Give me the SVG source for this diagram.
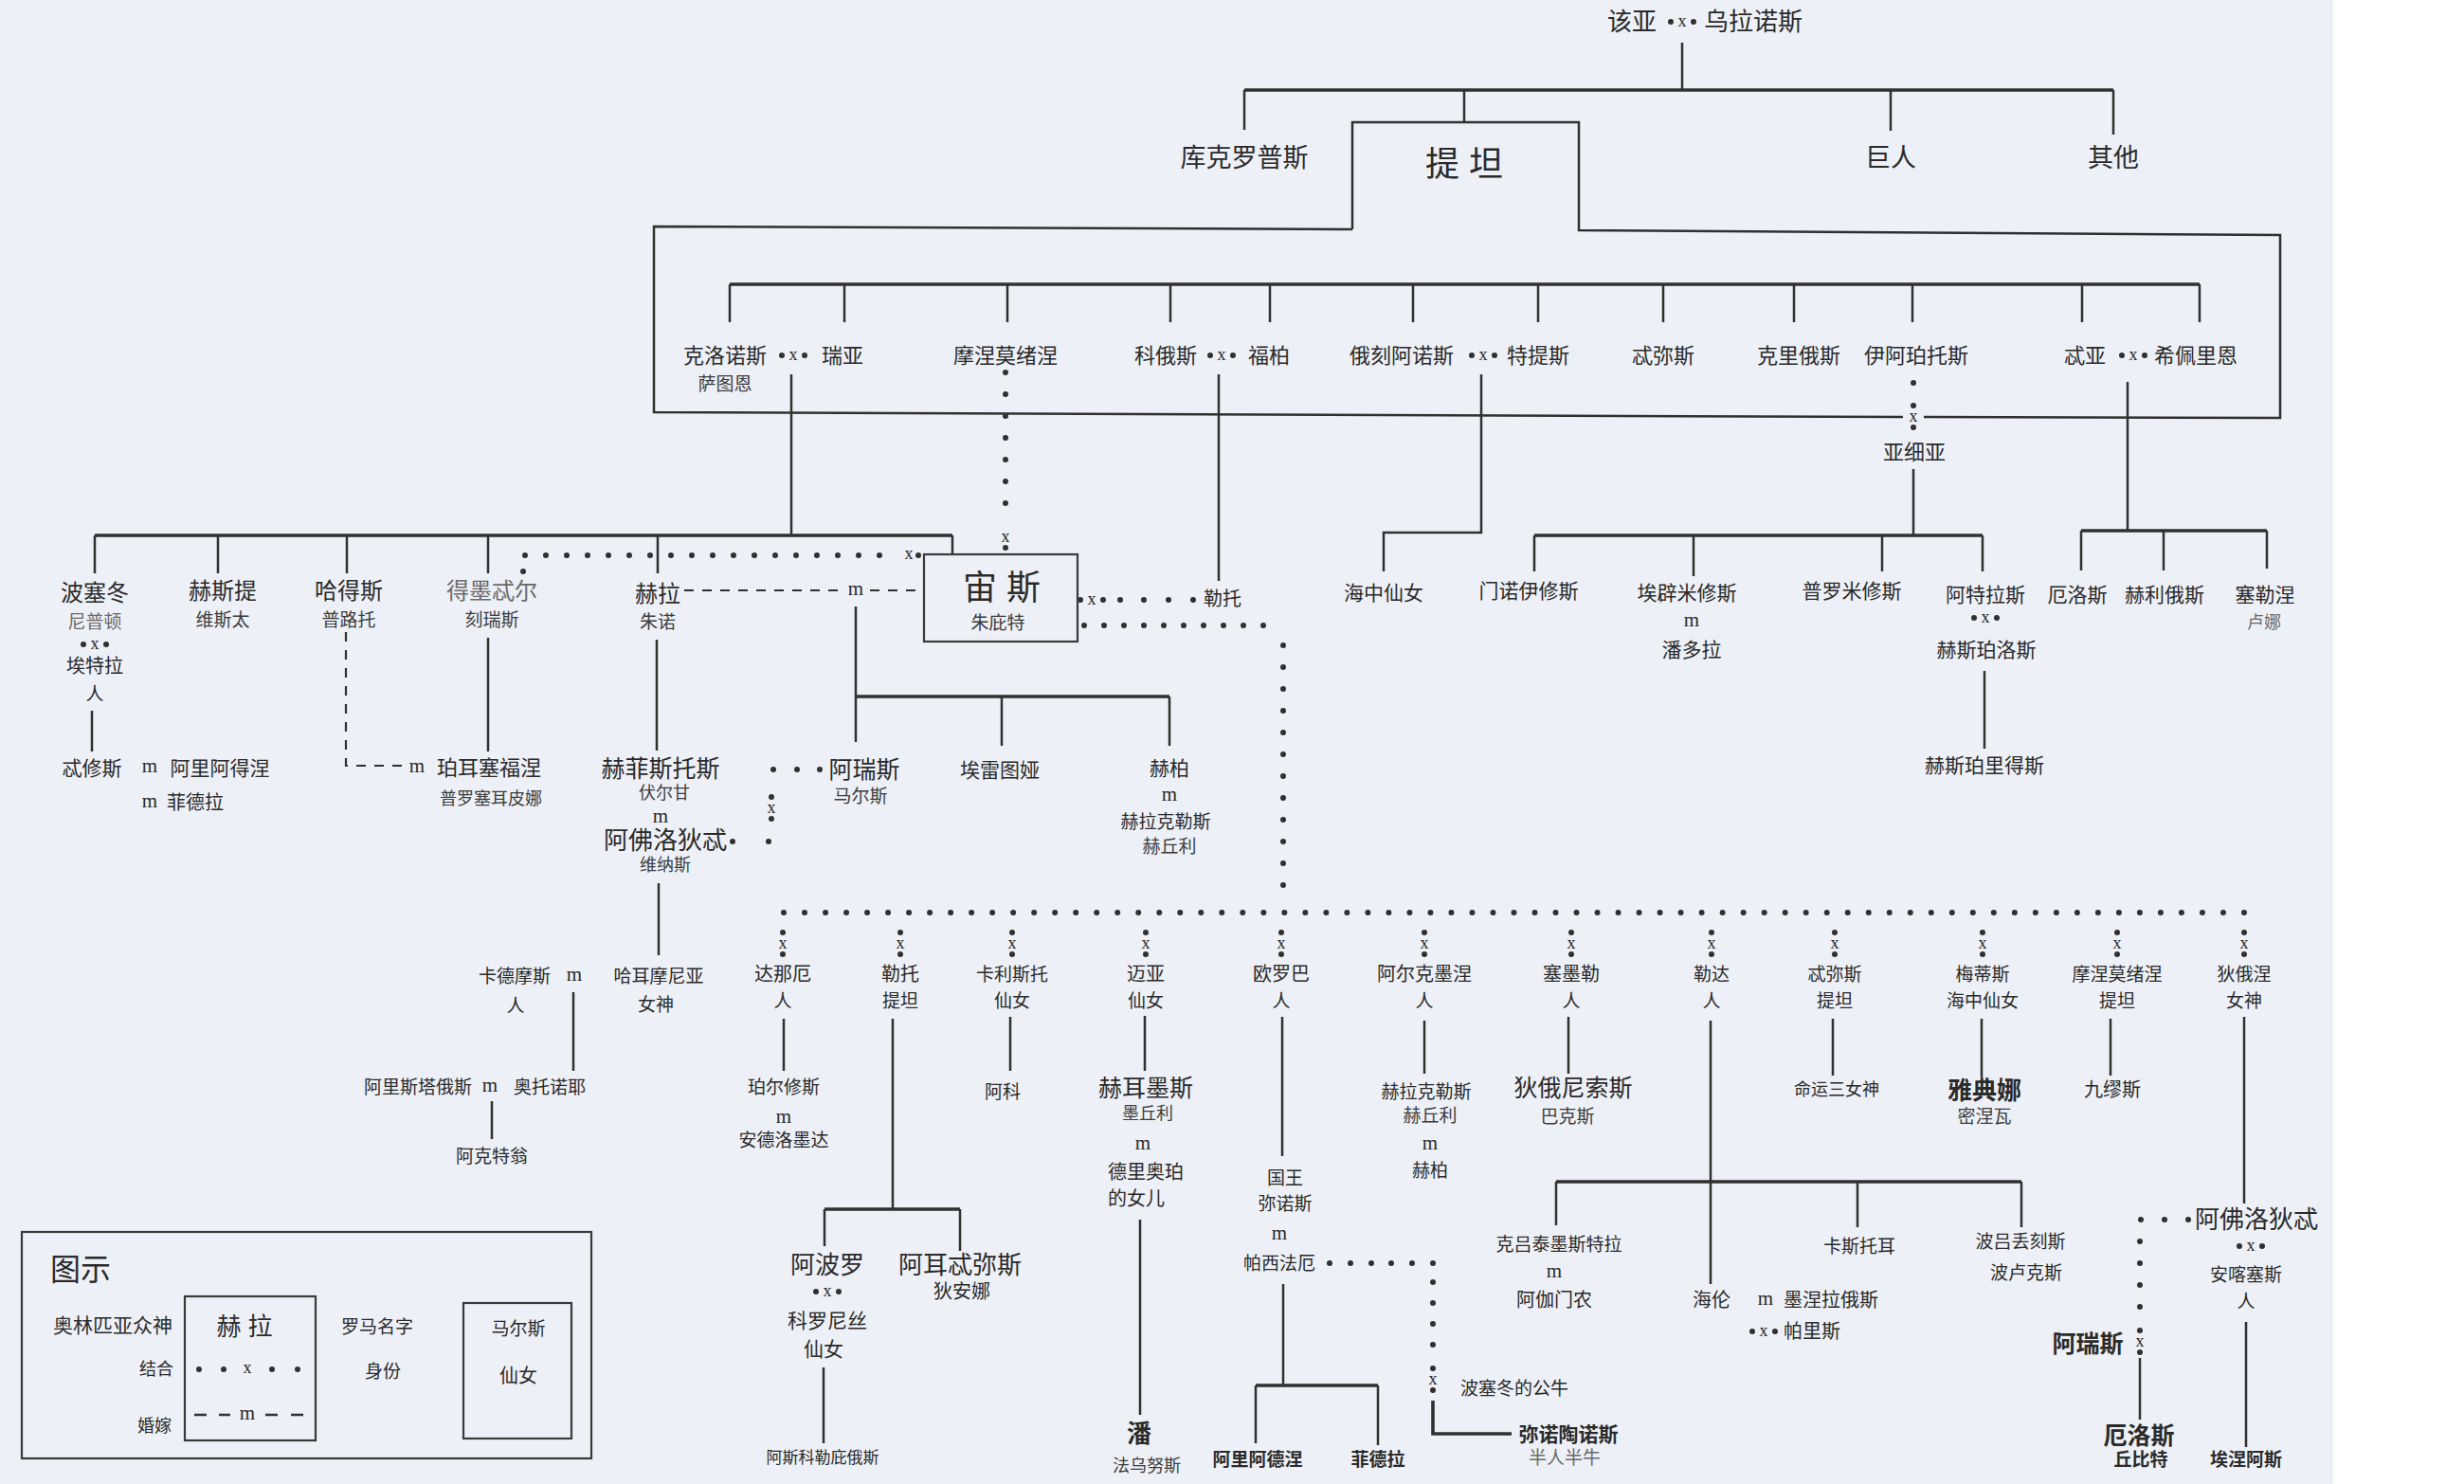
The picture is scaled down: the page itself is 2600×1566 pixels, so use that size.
<svg xmlns="http://www.w3.org/2000/svg" xmlns:xlink="http://www.w3.org/1999/xlink" width="2600" height="1566" viewBox="0 0 2600 1566">
<style>
.ln{stroke:#303030;stroke-width:2.5;fill:none}
.tk{stroke:#303030;stroke-width:3.6;fill:none}
.dt{stroke:#303030;stroke-width:6;stroke-linecap:round;fill:none}
.ds{stroke:#303030;stroke-width:2.2;stroke-dasharray:10 9;fill:none}
.bx{fill:none;stroke:#3a3a3a;stroke-width:2.2}
.dc{fill:#303030}
text{font-family:"Liberation Sans","Noto Sans CJK SC",sans-serif;fill:#2a2a2a;text-anchor:middle;dominant-baseline:central}
.s36{font-size:36px}
.s27{font-size:27px}
.s26{font-size:26px}
.s25{font-size:25px}
.s24{font-size:24px}
.s22{font-size:22px}
.s21{font-size:21px}
.s20{font-size:20px}
.s19{font-size:19px}
.s18{font-size:18px}
.s17{font-size:17px}
.r{fill:#3c3c3c}
.lt{fill:#6a6a6a}
.bd{font-weight:bold}
.m{font-family:"Liberation Serif",serif;font-size:21px}
.xx{font-family:"Liberation Serif",serif;font-size:18px}
.st{text-anchor:start}
</style>
<defs>
<g id="hx"><circle cx="-12" cy="0" r="3" class="dc"/><text x="0" y="-1" class="xx">x</text><circle cx="12" cy="0" r="3" class="dc"/></g>
<g id="vx"><circle cx="0" cy="-12" r="3" class="dc"/><text x="0" y="-1" class="xx">x</text><circle cx="0" cy="11" r="3" class="dc"/></g>
</defs>
<rect x="0" y="0" width="2600" height="1566" fill="#edf0f6"/>
<rect x="2462" y="0" width="138" height="1566" fill="#ffffff"/>

<g id="connectors">
<!-- top generation -->
<path class="ln" d="M1775 45 V95"/>
<path class="tk" d="M1313 95 H2230"/>
<path class="ln" d="M1313 95 V137 M1545 95 V129 M1995 95 V138 M2230 95 V142"/>
<!-- titan frame -->
<path class="ln" d="M1427 242 V129 H1666 V243 L2406 248 V441 L2030 440 M2008 440 L690 435 V239 L1427 242"/>
<path class="tk" d="M770 300 H2321"/>
<path class="ln" d="M770 300 V340 M891 300 V340 M1063 300 V340 M1235 300 V340 M1340 300 V340 M1491 300 V340 M1623 300 V340 M1755 300 V340 M1893 300 V340 M2018 300 V340 M2197 300 V340 M2321 300 V340"/>
<!-- Cronus & Rhea children -->
<path class="ln" d="M835 395 V565"/>
<path class="tk" d="M100 565 H1005"/>
<path class="ln" d="M1005 565 V585 M100 565 V605 M230 565 V605 M366 565 V605 M515 565 V605 M694 565 V605"/>
<!-- Demeter x Zeus -->
<circle cx="552" cy="603" r="3" class="dc"/>
<path class="dt" stroke-dasharray="0 22" d="M554 586 H950"/>
<text x="959" y="584" class="xx">x</text>
<circle cx="969" cy="586" r="3" class="dc"/>
<!-- Mnemosyne x Zeus -->
<path class="dt" stroke-dasharray="0 23" d="M1061 393 V554"/>
<text x="1061" y="566" class="xx">x</text>
<circle cx="1061" cy="578" r="3" class="dc"/>
<!-- Koios x Phoebe -->
<path class="ln" d="M1286 395 V613"/>
<use xlink:href="#hx" x="1152" y="633"/>
<circle cx="1182" cy="633" r="3" class="dc"/><circle cx="1207" cy="633" r="3" class="dc"/><circle cx="1233" cy="633" r="3" class="dc"/><circle cx="1259" cy="633" r="3" class="dc"/>
<!-- Oceanus x Tethys -->
<path class="ln" d="M1563 395 V562 H1460 V603"/>
<!-- Iapetus -->
<circle cx="2019" cy="404" r="3" class="dc"/>
<use xlink:href="#vx" x="2019" y="440"/>
<path class="ln" d="M2019 495 V565"/>
<path class="tk" d="M1619 565 H2092"/>
<path class="ln" d="M1619 565 V603 M1787 565 V608 M1986 565 V603 M2092 565 V603"/>
<path class="ln" d="M2094 708 V790"/>
<!-- Theia x Hyperion -->
<path class="ln" d="M2245 403 V560"/>
<path class="tk" d="M2196 560 H2392"/>
<path class="ln" d="M2196 560 V602 M2283 560 V602 M2392 560 V600"/>
<!-- Poseidon, Hades, Demeter -->
<path class="ln" d="M97 750 V793"/>
<path class="ds" d="M365 667 V808 H430"/>
<path class="ln" d="M515 673 V793"/>
<!-- Hera m Zeus -->
<path class="ds" d="M722 623 H891 M918 623 H975"/>
<path class="ln" d="M903 640 V783"/>
<path class="tk" d="M903 735 H1234"/>
<path class="ln" d="M1057 735 V787 M1234 735 V787"/>
<path class="ln" d="M693 675 V792"/>
<!-- Aphrodite x Ares -->
<circle cx="773" cy="888" r="3" class="dc"/><circle cx="811" cy="888" r="3" class="dc"/>
<use xlink:href="#vx" x="814" y="853"/>
<circle cx="816" cy="812" r="3" class="dc"/><circle cx="841" cy="812" r="3" class="dc"/><circle cx="865" cy="812" r="3" class="dc"/>
<path class="ln" d="M695 932 V1008"/>
<path class="ln" d="M605 1047 V1130"/>
<path class="ln" d="M519 1162 V1202"/>
<!-- Zeus lovers -->
<path class="dt" stroke-dasharray="0 21" d="M1144 660 H1354"/>
<path class="dt" stroke-dasharray="0 23" d="M1354 681 V957"/>
<path class="dt" stroke-dasharray="0 22.014" d="M827 963 H2368"/>
<use xlink:href="#vx" x="826" y="996"/>
<use xlink:href="#vx" x="950" y="996"/>
<use xlink:href="#vx" x="1068" y="996"/>
<use xlink:href="#vx" x="1209" y="996"/>
<use xlink:href="#vx" x="1352" y="996"/>
<use xlink:href="#vx" x="1503" y="996"/>
<use xlink:href="#vx" x="1658" y="996"/>
<use xlink:href="#vx" x="1806" y="996"/>
<use xlink:href="#vx" x="1936" y="996"/>
<use xlink:href="#vx" x="2092" y="996"/>
<use xlink:href="#vx" x="2234" y="996"/>
<use xlink:href="#vx" x="2368" y="996"/>
<!-- children of Zeus -->
<path class="ln" d="M827 1075 V1130"/>
<path class="ln" d="M942 1075 V1276"/>
<path class="tk" d="M870 1276 H1013"/>
<path class="ln" d="M870 1276 V1315 M1013 1276 V1320"/>
<path class="ln" d="M869 1443 V1523"/>
<path class="ln" d="M1066 1073 V1130"/>
<path class="ln" d="M1208 1072 V1130 M1203 1287 V1493"/>
<path class="ln" d="M1353 1073 V1220 M1354 1355 V1462"/>
<path class="tk" d="M1325 1462 H1454"/>
<path class="ln" d="M1325 1462 V1523 M1454 1462 V1525"/>
<circle cx="1403" cy="1333" r="3" class="dc"/><circle cx="1425" cy="1333" r="3" class="dc"/><circle cx="1447" cy="1333" r="3" class="dc"/><circle cx="1468" cy="1333" r="3" class="dc"/><circle cx="1490" cy="1333" r="3" class="dc"/><circle cx="1512" cy="1333" r="3" class="dc"/>
<circle cx="1512" cy="1353" r="3" class="dc"/><circle cx="1512" cy="1375" r="3" class="dc"/><circle cx="1512" cy="1397" r="3" class="dc"/><circle cx="1512" cy="1419" r="3" class="dc"/>
<use xlink:href="#vx" x="1512" y="1456"/>
<path class="tk" d="M1512 1478 V1513 H1595"/>
<path class="ln" d="M1503 1077 V1133"/>
<path class="ln" d="M1655 1073 V1133"/>
<path class="ln" d="M1805 1077 V1355"/>
<path class="tk" d="M1642 1247 H2133"/>
<path class="ln" d="M1642 1247 V1293 M1960 1247 V1295 M2133 1247 V1295"/>
<path class="ln" d="M1934 1075 V1135 M2091 1075 V1137 M2227 1075 V1135"/>
<path class="ln" d="M2368 1073 V1270"/>
<circle cx="2259" cy="1287" r="3" class="dc"/><circle cx="2284" cy="1287" r="3" class="dc"/><circle cx="2309" cy="1287" r="3" class="dc"/>
<circle cx="2258" cy="1310" r="3" class="dc"/><circle cx="2258" cy="1333" r="3" class="dc"/><circle cx="2258" cy="1356" r="3" class="dc"/><circle cx="2258" cy="1379" r="3" class="dc"/>
<use xlink:href="#vx" x="2258" y="1416"/>
<path class="ln" d="M2258 1433 V1498"/>
<path class="ln" d="M2370 1395 V1527"/>
</g>

<g id="n-gaia"><text x="1722" y="23" class="s26">该亚</text><use xlink:href="#hx" x="1775" y="23"/><text x="1850" y="23" class="s26">乌拉诺斯</text></g>
<g id="n-cyclopes"><text x="1313" y="167" class="s27">库克罗普斯</text></g>
<g id="n-titans"><text x="1545" y="173" class="s36">提 坦</text></g>
<g id="n-giants"><text x="1995" y="167" class="s27">巨人</text></g>
<g id="n-others"><text x="2230" y="167" class="s27">其他</text></g>

<g id="n-cronus"><text x="765" y="375" class="s22">克洛诺斯</text><use xlink:href="#hx" x="837" y="375"/><text x="889" y="375" class="s22">瑞亚</text><text x="765" y="405" class="s19 r">萨图恩</text></g>
<g id="n-mnemosyne"><text x="1061" y="375" class="s22">摩涅莫绪涅</text></g>
<g id="n-koios"><text x="1230" y="375" class="s22">科俄斯</text><use xlink:href="#hx" x="1289" y="375"/><text x="1339" y="375" class="s22">福柏</text></g>
<g id="n-oceanus"><text x="1479" y="375" class="s22">俄刻阿诺斯</text><use xlink:href="#hx" x="1565" y="375"/><text x="1623" y="375" class="s22">特提斯</text></g>
<g id="n-themis"><text x="1755" y="375" class="s22">忒弥斯</text></g>
<g id="n-crius"><text x="1898" y="375" class="s22">克里俄斯</text></g>
<g id="n-iapetus"><text x="2022" y="375" class="s22">伊阿珀托斯</text></g>
<g id="n-theia"><text x="2200" y="375" class="s22">忒亚</text><use xlink:href="#hx" x="2251" y="375"/><text x="2317" y="375" class="s22">希佩里恩</text></g>

<g id="n-poseidon"><text x="100" y="625" class="s24">波塞冬</text><text x="100" y="656" class="s19 lt">尼普顿</text><use xlink:href="#hx" x="100" y="680"/><text x="100" y="703" class="s20">埃特拉</text><text x="100" y="732" class="s19">人</text></g>
<g id="n-theseus"><text x="97" y="810" class="s21">忒修斯</text><text x="158" y="808" class="m">m</text><text x="232" y="810" class="s21">阿里阿得涅</text><text x="158" y="845" class="m">m</text><text x="206" y="847" class="s20">菲德拉</text></g>
<g id="n-hestia"><text x="235" y="623" class="s24">赫斯提</text><text x="235" y="654" class="s19 r">维斯太</text></g>
<g id="n-hades"><text x="368" y="623" class="s24">哈得斯</text><text x="368" y="654" class="s19 r">普路托</text></g>
<g id="n-persephone"><text x="440" y="808" class="m">m</text><text x="516" y="810" class="s22">珀耳塞福涅</text><text x="518" y="843" class="s18 r">普罗塞耳皮娜</text></g>
<g id="n-demeter"><text x="519" y="623" class="s24 lt">得墨忒尔</text><text x="519" y="654" class="s19 r">刻瑞斯</text></g>
<g id="n-hera"><text x="694" y="626" class="s24">赫拉</text><text x="694" y="656" class="s19 r">朱诺</text><text x="903" y="621" class="m">m</text></g>
<g id="n-zeus"><rect x="975" y="585" width="162" height="92" class="bx"/><text x="1057" y="620" class="s36">宙 斯</text><text x="1053" y="657" class="s19 r">朱庇特</text></g>
<g id="n-leto-top"><text x="1290" y="632" class="s20">勒托</text></g>
<g id="n-oceanids"><text x="1460" y="625" class="s21">海中仙女</text></g>
<g id="n-asia"><text x="2020" y="477" class="s22">亚细亚</text></g>
<g id="n-menoetius"><text x="1613" y="623" class="s21">门诺伊修斯</text></g>
<g id="n-epimetheus"><text x="1780" y="625" class="s21">埃辟米修斯</text><text x="1785" y="654" class="m">m</text><text x="1785" y="685" class="s21">潘多拉</text></g>
<g id="n-prometheus"><text x="1954" y="623" class="s21">普罗米修斯</text></g>
<g id="n-atlas"><text x="2095" y="627" class="s21">阿特拉斯</text><use xlink:href="#hx" x="2095" y="652"/><text x="2096" y="685" class="s21">赫斯珀洛斯</text></g>
<g id="n-hesperides"><text x="2094" y="807" class="s21">赫斯珀里得斯</text></g>
<g id="n-eos"><text x="2192" y="627" class="s21">厄洛斯</text></g>
<g id="n-helios"><text x="2284" y="627" class="s21">赫利俄斯</text></g>
<g id="n-selene"><text x="2390" y="627" class="s21">塞勒涅</text><text x="2389" y="657" class="s18 lt">卢娜</text></g>

<g id="n-ares"><text x="912" y="812" class="s25">阿瑞斯</text><text x="908" y="840" class="s19 r">马尔斯</text></g>
<g id="n-eileithyia"><text x="1055" y="812" class="s21">埃雷图娅</text></g>
<g id="n-hebe"><text x="1234" y="810" class="s21">赫柏</text><text x="1234" y="838" class="m">m</text><text x="1230" y="867" class="s19">赫拉克勒斯</text><text x="1234" y="893" class="s19 r">赫丘利</text></g>
<g id="n-hephaestus"><text x="697" y="811" class="s25">赫菲斯托斯</text><text x="701" y="837" class="s18 r">伏尔甘</text><text x="697" y="861" class="m">m</text><text x="702" y="887" class="s26">阿佛洛狄忒</text><text x="702" y="913" class="s18 r">维纳斯</text></g>
<g id="n-harmonia"><text x="543" y="1030" class="s19">卡德摩斯</text><text x="606" y="1028" class="m">m</text><text x="544" y="1061" class="s19">人</text><text x="695" y="1030" class="s19">哈耳摩尼亚</text><text x="692" y="1060" class="s19">女神</text></g>
<g id="n-aristaeus"><text x="441" y="1147" class="s19">阿里斯塔俄斯</text><text x="517" y="1145" class="m">m</text><text x="580" y="1147" class="s19">奥托诺耶</text></g>
<g id="n-actaeon"><text x="519" y="1220" class="s19">阿克特翁</text></g>

<g id="n-danae"><text x="826" y="1028" class="s20">达那厄</text><text x="826" y="1056" class="s19">人</text></g>
<g id="n-leto"><text x="950" y="1028" class="s20">勒托</text><text x="950" y="1056" class="s19">提坦</text></g>
<g id="n-callisto"><text x="1068" y="1028" class="s19">卡利斯托</text><text x="1068" y="1056" class="s19">仙女</text></g>
<g id="n-maia"><text x="1209" y="1028" class="s20">迈亚</text><text x="1209" y="1056" class="s19">仙女</text></g>
<g id="n-europa"><text x="1352" y="1028" class="s20">欧罗巴</text><text x="1352" y="1056" class="s19">人</text></g>
<g id="n-alcmene"><text x="1503" y="1028" class="s20">阿尔克墨涅</text><text x="1503" y="1056" class="s19">人</text></g>
<g id="n-semele"><text x="1658" y="1028" class="s20">塞墨勒</text><text x="1658" y="1056" class="s19">人</text></g>
<g id="n-leda"><text x="1806" y="1028" class="s19">勒达</text><text x="1806" y="1056" class="s19">人</text></g>
<g id="n-themis2"><text x="1936" y="1028" class="s19">忒弥斯</text><text x="1936" y="1056" class="s19">提坦</text></g>
<g id="n-metis"><text x="2092" y="1028" class="s19">梅蒂斯</text><text x="2092" y="1056" class="s19">海中仙女</text></g>
<g id="n-mnemosyne2"><text x="2234" y="1028" class="s19">摩涅莫绪涅</text><text x="2234" y="1056" class="s19">提坦</text></g>
<g id="n-dione"><text x="2368" y="1028" class="s19">狄俄涅</text><text x="2368" y="1056" class="s19">女神</text></g>

<g id="n-perseus"><text x="827" y="1147" class="s19">珀尔修斯</text><text x="827" y="1178" class="m">m</text><text x="827" y="1203" class="s19">安德洛墨达</text></g>
<g id="n-apollo"><text x="873" y="1335" class="s26">阿波罗</text><use xlink:href="#hx" x="873" y="1363"/><text x="873" y="1393" class="s21">科罗尼丝</text><text x="869" y="1423" class="s21">仙女</text></g>
<g id="n-asclepius"><text x="868" y="1538" class="s17">阿斯科勒庇俄斯</text></g>
<g id="n-artemis"><text x="1013" y="1335" class="s26">阿耳忒弥斯</text><text x="1015" y="1363" class="s20">狄安娜</text></g>
<g id="n-arcas"><text x="1058" y="1152" class="s19">阿科</text></g>
<g id="n-hermes"><text x="1209" y="1148" class="s25">赫耳墨斯</text><text x="1211" y="1175" class="s18 r">墨丘利</text><text x="1206" y="1206" class="m">m</text><text x="1169" y="1237" class="s20 st">德里奥珀</text><text x="1169" y="1265" class="s20 st">的女儿</text></g>
<g id="n-pan"><text x="1202" y="1513" class="s26 bd">潘</text><text x="1210" y="1547" class="s18 r">法乌努斯</text></g>
<g id="n-minos"><text x="1356" y="1243" class="s19">国王</text><text x="1356" y="1270" class="s19">弥诺斯</text><text x="1350" y="1301" class="m">m</text><text x="1350" y="1333" class="s19">帕西法厄</text></g>
<g id="n-ariadne"><text x="1327" y="1540" class="s19 bd">阿里阿德涅</text></g>
<g id="n-phaedra"><text x="1454" y="1540" class="s19 bd">菲德拉</text></g>
<g id="n-bull"><text x="1598" y="1465" class="s19">波塞冬的公牛</text></g>
<g id="n-minotaur"><text x="1655" y="1513" class="s21 bd">弥诺陶诺斯</text><text x="1651" y="1538" class="s19 lt">半人半牛</text></g>
<g id="n-heracles"><text x="1505" y="1152" class="s19">赫拉克勒斯</text><text x="1509" y="1177" class="s19 r">赫丘利</text><text x="1509" y="1206" class="m">m</text><text x="1509" y="1235" class="s19">赫柏</text></g>
<g id="n-dionysus"><text x="1660" y="1148" class="s25">狄俄尼索斯</text><text x="1654" y="1178" class="s19 r">巴克斯</text></g>
<g id="n-clytemnestra"><text x="1645" y="1313" class="s19">克吕泰墨斯特拉</text><text x="1640" y="1341" class="m">m</text><text x="1640" y="1372" class="s20">阿伽门农</text></g>
<g id="n-helen"><text x="1806" y="1372" class="s20">海伦</text><text x="1863" y="1370" class="m">m</text><text x="1932" y="1372" class="s20">墨涅拉俄斯</text><use xlink:href="#hx" x="1861" y="1405"/><text x="1912" y="1405" class="s20">帕里斯</text></g>
<g id="n-castor"><text x="1962" y="1315" class="s19">卡斯托耳</text></g>
<g id="n-polydeuces"><text x="2132" y="1310" class="s19">波吕丢刻斯</text><text x="2138" y="1343" class="s19">波卢克斯</text></g>
<g id="n-moirai"><text x="1938" y="1150" class="s18">命运三女神</text></g>
<g id="n-athena"><text x="2094" y="1151" class="s26 bd">雅典娜</text><text x="2094" y="1178" class="s19 r">密涅瓦</text></g>
<g id="n-muses"><text x="2229" y="1150" class="s20">九缪斯</text></g>
<g id="n-aphrodite2"><text x="2381" y="1287" class="s26">阿佛洛狄忒</text><use xlink:href="#hx" x="2375" y="1315"/><text x="2370" y="1345" class="s19">安喀塞斯</text><text x="2370" y="1373" class="s19">人</text></g>
<g id="n-ares2"><text x="2203" y="1418" class="s25 bd">阿瑞斯</text></g>
<g id="n-eros"><text x="2257" y="1515" class="s25 bd">厄洛斯</text><text x="2259" y="1540" class="s19 bd">丘比特</text></g>
<g id="n-aeneas"><text x="2370" y="1540" class="s19 bd">埃涅阿斯</text></g>

<g id="legend">
<rect x="23" y="1300" width="601" height="239" class="bx"/>
<text x="85" y="1340" class="s36" style="font-size:32px">图示</text>
<text x="119" y="1398" class="s21">奥林匹亚众神</text>
<rect x="195" y="1368" width="138" height="152" class="bx"/>
<text x="258" y="1400" class="s26">赫 拉</text>
<text x="165" y="1445" class="s18">结合</text>
<circle cx="210" cy="1445" r="3" class="dc"/><circle cx="236" cy="1445" r="3" class="dc"/><text x="261" y="1443" class="xx">x</text><circle cx="287" cy="1445" r="3" class="dc"/><circle cx="314" cy="1445" r="3" class="dc"/>
<text x="163" y="1505" class="s18">婚嫁</text>
<path class="ln" d="M205 1493 H218 M231 1493 H243 M280 1493 H293 M307 1493 H320"/>
<text x="261" y="1491" class="m">m</text>
<text x="398" y="1400" class="s19">罗马名字</text>
<text x="404" y="1447" class="s19">身份</text>
<rect x="489" y="1375" width="114" height="143" class="bx"/>
<text x="547" y="1402" class="s19">马尔斯</text>
<text x="547" y="1452" class="s20">仙女</text>
</g>
</svg>
